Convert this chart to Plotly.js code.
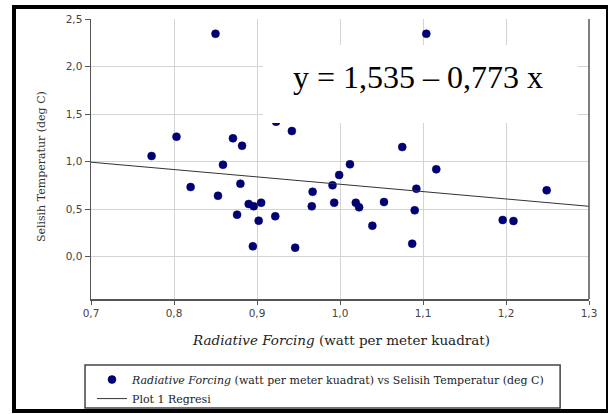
<!DOCTYPE html>
<html>
<head>
<meta charset="utf-8">
<script src="https://cdn.plot.ly/plotly-3.0.1.min.js"></script>
<style>
body{margin:0;background:#fff}
#wrap{position:relative;width:611px;height:414px}
#chart{width:611px;height:414px}
#frame{position:absolute;left:12px;top:5px;width:590px;height:400px;border-left:4px solid #000;border-top:4px solid #000;border-bottom:4px solid #000;border-right:2px solid #000;pointer-events:none}
</style>
</head>
<body>
<div id="wrap"><div id="chart"></div><div id="frame"></div></div>
<script>
// Radiative Forcing (watt per meter kuadrat)
const forcing = [0.773,0.803,0.850,0.871,0.882,0.859,0.923,0.942,1.104,1.075,1.012,0.999,1.116,
  0.820,0.853,0.880,0.876,0.890,0.896,0.905,0.902,0.895,0.922,0.946,0.967,0.966,
  0.991,0.993,1.019,1.023,1.053,1.039,1.092,1.090,1.087,1.196,1.209,1.249];
// Selisih Temperatur (deg C)
const temp = [1.059,1.262,2.345,1.245,1.167,0.967,1.420,1.322,2.345,1.153,0.972,0.859,0.919,
  0.733,0.641,0.768,0.442,0.554,0.530,0.568,0.379,0.109,0.425,0.095,0.683,0.530,
  0.751,0.568,0.568,0.519,0.575,0.326,0.715,0.488,0.137,0.386,0.375,0.698];
// Regression line y = 1,535 - 0,773 x
const regX = [0.7, 1.3];
const regY = [0.994, 0.530];
const xTicks = [0.7,0.8,0.9,1.0,1.1,1.2,1.3];
const yTicks = [0.0,0.5,1.0,1.5,2.0,2.5];
const equationText = 'y = 1,535 \u2013 0,773 x';

const serif = '"Liberation Serif", "Times New Roman", serif';
const wideSerif = '"DejaVu Serif", serif';
const sans = '"DejaVu Sans", Verdana, sans-serif';

const traces = [
  {
    x: forcing, y: temp, type: 'scatter', mode: 'markers',
    name: '<i>Radiative Forcing</i> (watt per meter kuadrat) vs Selisih Temperatur (deg C)',
    marker: {color: '#00007a', size: 8, line: {color: '#000050', width: 0.5}}
  },
  {
    x: regX, y: regY, type: 'scatter', mode: 'lines',
    name: 'Plot 1 Regresi',
    line: {color: '#333333', width: 1}
  }
];

const layout = {
  width: 611, height: 414,
  margin: {l: 91, r: 22, t: 19, b: 115, autoexpand: false},
  paper_bgcolor: '#fff', plot_bgcolor: '#fff',
  separators: ', ',
  showlegend: true,
  xaxis: {
    range: [0.7, 1.3], tickvals: xTicks, tickformat: '.1f',
    showgrid: true, gridcolor: '#d4d4d4', gridwidth: 1,
    zeroline: false, showline: true, linecolor: '#555', linewidth: 1.5,
    ticks: 'outside', ticklen: 4, tickcolor: '#555',
    tickfont: {family: sans, size: 10.5, color: '#444'}
  },
  yaxis: {
    range: [-0.445, 2.5], tickvals: yTicks, tickformat: '.1f',
    showgrid: true, gridcolor: '#d4d4d4', gridwidth: 1,
    zeroline: false, showline: true, linecolor: '#555', linewidth: 1.5,
    ticks: 'outside', ticklen: 5, tickcolor: '#555',
    tickfont: {family: sans, size: 10.5, color: '#444'}
  },
  legend: {
    x: 0.002, y: -0.236, xanchor: 'left', yanchor: 'top',
    bgcolor: 'rgba(0,0,0,0)', borderwidth: 0, tracegroupgap: 0,
    font: {family: wideSerif, size: 11, color: '#222'}
  },
  shapes: [
    {type: 'line', xref: 'paper', yref: 'paper', x0: 1, x1: 1, y0: 0, y1: 1, line: {color: '#555', width: 1.5}},
    {type: 'rect', xref: 'paper', yref: 'paper', x0: 0.345, x1: 0.978, y0: 0.629, y1: 0.907, fillcolor: '#fff', line: {width: 0}, layer: 'above'},
    {type: 'rect', xref: 'paper', yref: 'paper', x0: -0.012, x1: 0.942, y0: -0.389, y1: -0.236, fillcolor: 'rgba(0,0,0,0)', line: {color: '#444', width: 1.5}}
  ],
  annotations: [
    {text: equationText, xref: 'paper', yref: 'paper', x: 0.657, y: 0.793, xanchor: 'center', yanchor: 'middle', showarrow: false,
     font: {family: serif, size: 32, color: '#000'}},
    {text: 'Selisih Temperatur (deg C)', xref: 'paper', yref: 'paper', x: -0.1004, y: 0.471, xanchor: 'center', yanchor: 'middle', textangle: -90, showarrow: false,
     font: {family: wideSerif, size: 11, color: '#333'}},
    {text: '<i>Radiative Forcing</i> (watt per meter kuadrat)', xref: 'paper', yref: 'paper', x: 0.502, y: -0.146, xanchor: 'center', yanchor: 'middle', showarrow: false,
     font: {family: wideSerif, size: 13.5, color: '#222'}}
  ]
};

Plotly.newPlot('chart', traces, layout, {displayModeBar: false, staticPlot: true});
</script>
</body>
</html>
